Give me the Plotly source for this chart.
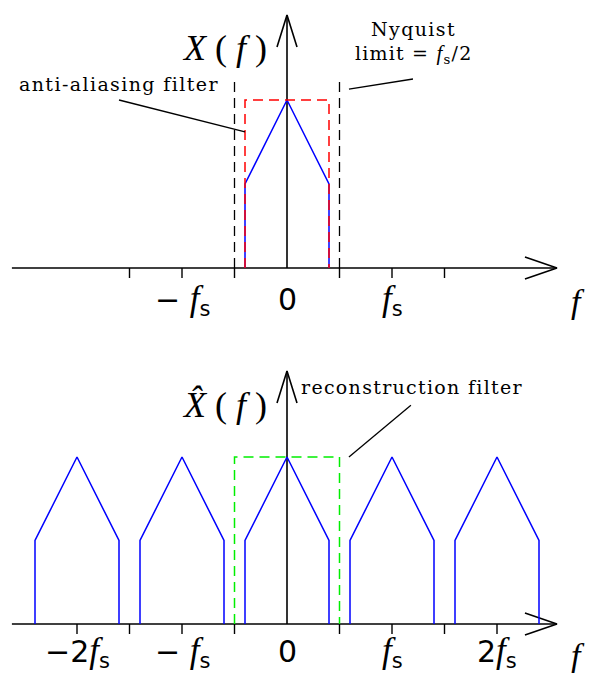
import plotly.graph_objects as go

# frequencies in units of fs, amplitudes normalised to the spectrum peak
spectrum_f = [-0.4, -0.4, 0.0, 0.4, 0.4]
spectrum_a = [0.0, 0.5, 1.0, 0.5, 0.0]
aa_filter_f = [-0.4, -0.4, 0.4, 0.4]
aa_filter_a = [0.0, 1.0, 1.0, 0.0]
recon_filter_f = [-0.5, -0.5, 0.5, 0.5]
recon_filter_a = [0.0, 1.0, 1.0, 0.0]
nyquist_f = [-0.5, 0.5]
nyquist_height = 1.12
image_shifts = [-2, -1, 0, 1, 2]

top_ticks = [-1.5, -1.0, -0.5, 0.5, 1.0, 1.5]
bottom_ticks = [-2.0, -1.5, -1.0, -0.5, 0.5, 1.0, 1.5, 2.0]


def italic_f(size):
        return f"<span style='font-family:Liberation Serif;font-size:{size}px'><i>f</i></span>"


FS = italic_f(35) + "<sub>s</sub>"
top_labels = {-1: "− " + FS, 0: "0", 1: FS}
bottom_labels = {-2: "−2" + FS, -1: "− " + FS, 0: "0", 1: FS, 2: "2" + FS}

W, H = 593, 673
PX_PER_FS = 105.0
XR = [-287 / PX_PER_FS, (W - 287) / PX_PER_FS]

BLACK = "black"
BLUE = "#0000ff"
RED = "#ff0000"
GREEN = "#00ee00"
SERIF = "DejaVu Serif"
SANS = "DejaVu Sans"

fig = go.Figure()


def line(xs, ys, color, ax, width=1.5, dash="solid"):
        fig.add_trace(go.Scatter(x=xs, y=ys, mode="lines", xaxis=ax[0], yaxis=ax[1],
                                 line=dict(color=color, width=width, dash=dash),
                                 hoverinfo="skip", showlegend=False))


def axes_with_arrows(ax, ticks, unit_px):
        # horizontal axis + open arrowhead
        x_end = 2.571
        ah_len = 32 / PX_PER_FS
        ah_w = 11 / unit_px
        line([-2.62, x_end], [0, 0], BLACK, ax, 1.6)
        line([x_end - ah_len, x_end, x_end - ah_len], [ah_w, 0, -ah_w], BLACK, ax, 1.6)
        # vertical axis + arrowhead
        y_end = 253 / unit_px
        line([0, 0], [0, y_end], BLACK, ax, 1.6)
        line([-10 / PX_PER_FS, 0, 10 / PX_PER_FS],
             [y_end - 32 / unit_px, y_end, y_end - 32 / unit_px], BLACK, ax, 1.6)
        # ticks below the axis
        tx, ty = [], []
        for t in ticks:
                tx += [t, t, None]
                ty += [0, -10 / unit_px, None]
        line(tx, ty, BLACK, ax, 1.4)


def label(text, x, y, ax, size, family=SERIF, spacing=None):
        if spacing:
                text = f"<span style='letter-spacing:{spacing}px'>{text}</span>"
        fig.add_annotation(text=text, x=x, y=y, xref=ax[0], yref=ax[1], showarrow=False,
                           xanchor="center", yanchor="middle",
                           font=dict(family=family, size=size, color=BLACK))


TOP = ("x", "y")
BOT = ("x2", "y2")

# ---- top panel: X(f)
axes_with_arrows(TOP, top_ticks, 168)
line(spectrum_f, spectrum_a, BLUE, TOP)
line(aa_filter_f, aa_filter_a, RED, TOP, dash="10px,6px")
for f in nyquist_f:
        line([f, f], [0, nyquist_height], BLACK, TOP, 1.3, "10px,6px")
line([-1.6, -0.4], [1.0, 0.81], BLACK, TOP, 1.3)
line([0.59, 1.2], [1.065, 1.125], BLACK, TOP, 1.3)

label("<i>X</i> ( <i>f</i> )", -0.6, 1.31, TOP, 36, "Liberation Serif")
label("anti-aliasing filter", -1.6, 1.095, TOP, 19, spacing=1.4)
label("Nyquist", 1.2, 1.425, TOP, 19, spacing=1.4)
label("limit = " + italic_f(21) + "<sub>s</sub>/2", 1.2, 1.275, TOP, 19, spacing=1.2)
for k, txt in top_labels.items():
        label(txt, k, -0.19, TOP, 30, SANS)
label(italic_f(34), 2.77, -0.2, TOP, 32, "Liberation Serif")

# ---- bottom panel: sampled spectrum X^(f)
axes_with_arrows(BOT, bottom_ticks, 167)
for k in image_shifts:
        line([f + k for f in spectrum_f], spectrum_a, BLUE, BOT)
line(recon_filter_f, recon_filter_a, GREEN, BOT, dash="10px,6px")
line([0.59, 1.18], [1.0, 1.31], BLACK, BOT, 1.3)

label("<i>X̂</i> ( <i>f</i> )", -0.6, 1.31, BOT, 36, "Liberation Serif")
label("reconstruction filter", 1.19, 1.42, BOT, 19, spacing=1.3)
for k, txt in bottom_labels.items():
        label(txt, k, -0.165, BOT, 30, SANS)
label(italic_f(34), 2.77, -0.19, BOT, 32, "Liberation Serif")

hidden = dict(visible=False, showgrid=False, zeroline=False, fixedrange=True)
fig.update_layout(
        width=W, height=H,
        margin=dict(l=0, r=0, t=0, b=0),
        paper_bgcolor="white", plot_bgcolor="white",
        xaxis=dict(hidden, range=XR, domain=[0, 1], anchor="y"),
        yaxis=dict(hidden, range=[(268 - 336.5) / 168, 268 / 168], domain=[0.5, 1], anchor="x"),
        xaxis2=dict(hidden, range=XR, domain=[0, 1], anchor="y2"),
        yaxis2=dict(hidden, range=[(624 - 673) / 167, (624 - 336.5) / 167], domain=[0, 0.5], anchor="x2"),
)

fig.write_html("out.html", config={"displayModeBar": False},
               post_script="document.body.style.margin='0';")
